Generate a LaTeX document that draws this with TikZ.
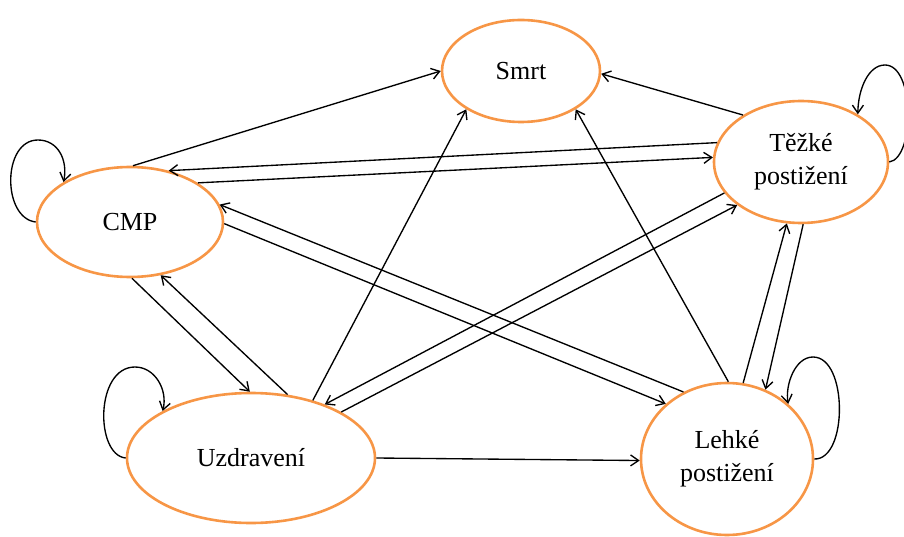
\documentclass[tikz,border=0pt]{standalone}
\usepackage{fontspec}
\setmainfont{Liberation Serif}
\usetikzlibrary{shapes.geometric,arrows.meta}
\definecolor{stateorange}{RGB}{247,150,70}
\begin{document}
\begin{tikzpicture}[x=1pt,y=-1pt,
  state/.style={ellipse, draw=stateorange, line width=2.6pt, fill=white,
    inner sep=0pt, align=center, font=\fontsize{26}{33}\selectfont},
  link/.style={line width=1.35pt, -{Straight Barb[length=8pt,width=11pt]}},
  ]
\useasboundingbox (0,0) rectangle (904,537);

% states
\node[state, minimum width=158pt, minimum height=102pt] (smrt)  at (521,71)  {Smrt};
\node[state, minimum width=186pt, minimum height=110pt] (cmp)   at (130,222) {CMP};
\node[state, minimum width=174pt, minimum height=122pt] (tezke) at (801,162) {Těžké\\postižení};
\node[state, minimum width=172pt, minimum height=152pt] (lehke) at (727,459) {Lehké\\postižení};
\node[state, minimum width=248pt, minimum height=130pt] (uzdr)  at (251,458) {Uzdravení};

% transitions between states
\draw[link] (cmp.87)    -- (smrt.180);
\draw[link] (tezke.167) -- (cmp.53);
\draw[link] (cmp.30)    -- (tezke.177);
\draw[link] (tezke.141) -- (smrt.-2);
\draw[link] (lehke.123) -- (cmp.11);
\draw[link] (cmp.-1)    -- (lehke.138);
\draw[link] (cmp.-88)   -- (uzdr.91);
\draw[link] (uzdr.60)   -- (cmp.-60);
\draw[link] (uzdr.43)   -- (smrt.215);
\draw[link] (tezke.202) -- (uzdr.36);
\draw[link] (uzdr.27)   -- (tezke.214);
\draw[link] (lehke.89)  -- (smrt.-35);
\draw[link] (lehke.78)  -- (tezke.257);
\draw[link] (tezke.-88) -- (lehke.61);
\draw[link] (uzdr.0)    -- (lehke.181);

% self loops
\draw[link] (cmp.180) .. controls (2,218) and (2,140) .. (38,140)
  .. controls (58,140) and (68,160) .. (cmp.149);
\draw[link] (uzdr.180) .. controls (95,455) and (95,367) .. (135,367)
  .. controls (155,367) and (168,390) .. (uzdr.152);
\draw[link] (tezke.0) .. controls (915,158) and (915,65) .. (885,65)
  .. controls (868,65) and (858,90) .. (tezke.40);
\draw[link] (lehke.0) .. controls (848,460) and (848,357) .. (813,357)
  .. controls (795,357) and (785,385) .. (lehke.42);
\end{tikzpicture}
\end{document}
